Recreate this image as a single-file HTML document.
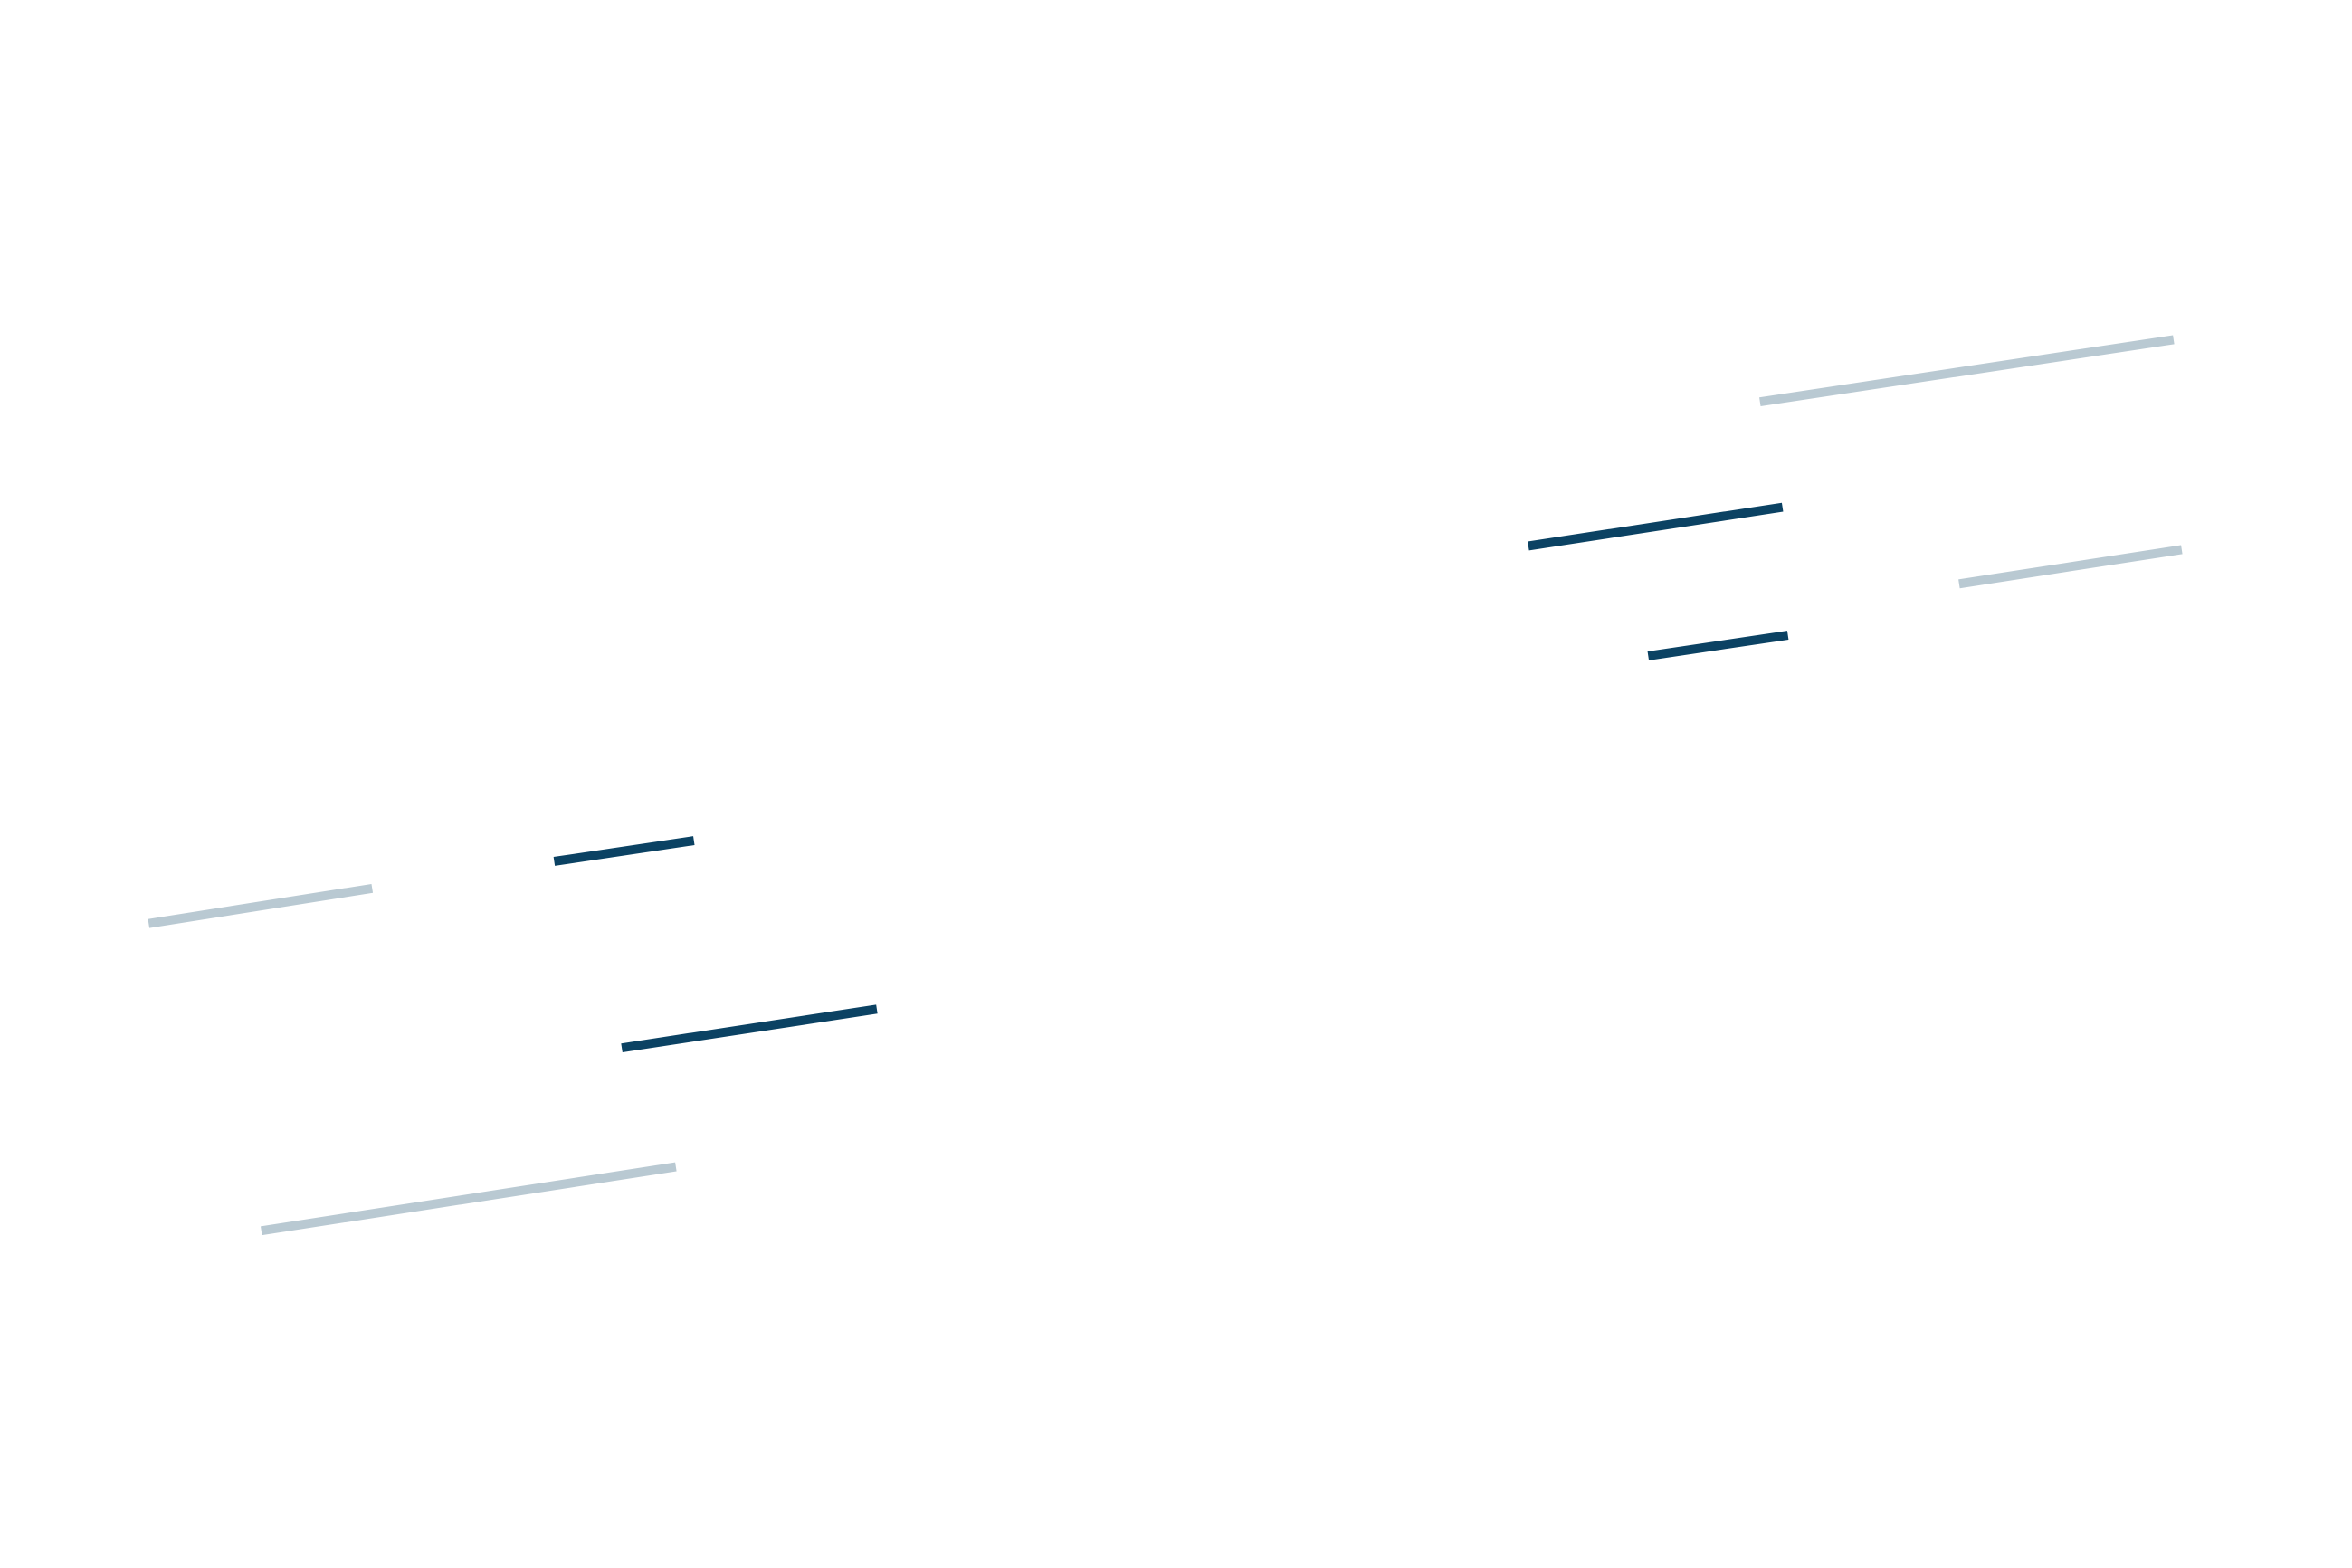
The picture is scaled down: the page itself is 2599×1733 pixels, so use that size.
<!DOCTYPE html>
<html><head><style>html,body{margin:0;padding:0;background:#fff}svg{display:block}</style></head>
<body>
<svg width="2599" height="1733" viewBox="0 0 2599 1733" xmlns="http://www.w3.org/2000/svg">
<g stroke-width="10" stroke-linecap="butt" transform="scale(0.9958)">
<line x1="1953" y1="446" x2="2412" y2="377" stroke="#b9c9d2"/>
<line x1="1696" y1="606" x2="1978" y2="563" stroke="#0b4263"/>
<line x1="2174" y1="648" x2="2421" y2="610" stroke="#b9c9d2"/>
<line x1="1829" y1="728" x2="1984" y2="705" stroke="#0b4263"/>
<line x1="615" y1="956" x2="770" y2="933" stroke="#0b4263"/>
<line x1="165" y1="1025" x2="413" y2="986" stroke="#b9c9d2"/>
<line x1="690" y1="1163" x2="973" y2="1120" stroke="#0b4263"/>
<line x1="290" y1="1366" x2="750" y2="1295" stroke="#b9c9d2"/>
</g>
</svg>
</body></html>
